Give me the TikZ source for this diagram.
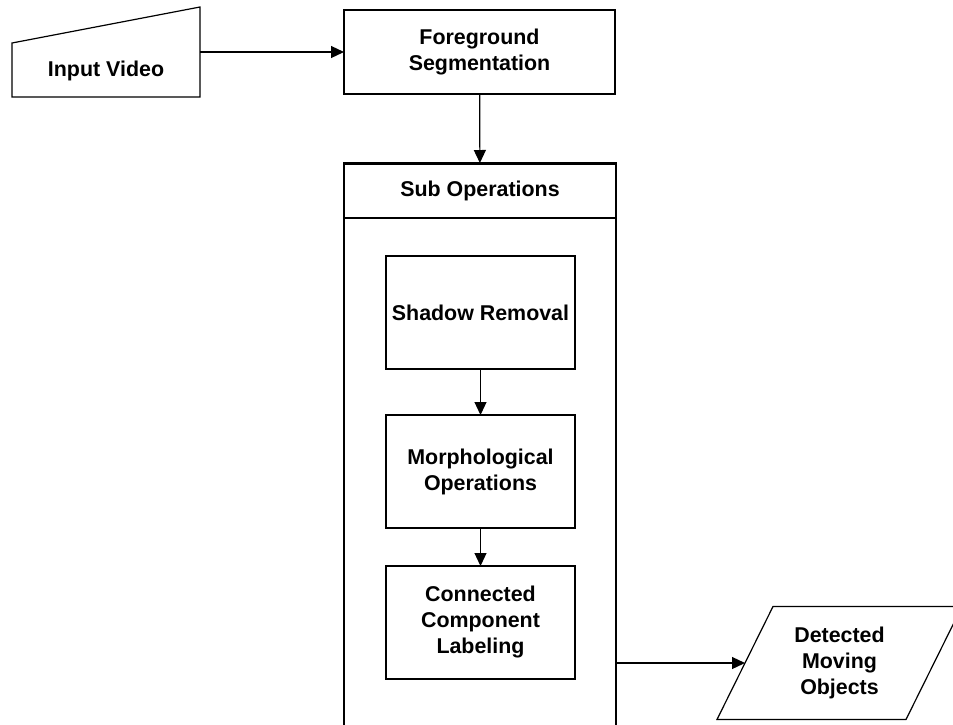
\documentclass[tikz,border=0pt]{standalone}
\usepackage{fontspec}
\setmainfont{Liberation Sans}
\usetikzlibrary{arrows.meta}
\begin{document}
\begin{tikzpicture}[x=1pt,y=-1pt,
  every node/.style={font=\fontsize{21.4}{26}\selectfont\bfseries, align=center,
    inner sep=0pt, outer sep=0pt},
  ln/.style={line width=1.2pt, draw=black},
  stepbox/.style={ln, minimum width=189, minimum height=113},
  arr/.style={line width=1.2pt, -{Triangle[length=13pt,width=12pt]}},
]
\useasboundingbox (0,0) rectangle (953,724);
\clip (0,0) rectangle (953,724);

% input (manual input shape)
\node[minimum width=188, minimum height=90] (inp) at (106,52) {};
\draw[ln] (inp.south west) -- (inp.south east) -- (inp.north east)
  -- ([yshift=54pt]inp.south west) -- cycle;
\node (inptxt) at (106,71) {Input Video};

% main process
\node[ln, minimum width=271, minimum height=84] (fg) at (479.5,52) {Foreground\\Segmentation};

% sub operations container
\node[ln, minimum width=272, minimum height=55] (hdr) at (480,190.5) {Sub Operations};
\draw[line width=0.8pt] ([yshift=-1.6pt]hdr.north west) -- ([yshift=-1.6pt]hdr.north east);
\node[ln, minimum width=272, minimum height=600, anchor=north] (cont) at (hdr.south) {};

\node[stepbox] (shadow) at (480.5,312.5) {Shadow Removal};
\node[stepbox] (morph) at (480.5,471.5) {Morphological\\Operations};
\node[stepbox] (conn) at (480.5,622.5) {Connected\\Component\\Labeling};

% output (data parallelogram)
\node[minimum width=189, minimum height=113] (out) at (839.5,663) {Detected\\Moving\\Objects};
\draw[ln] ([xshift=-28pt]out.south west) -- ([xshift=-28pt]out.south east)
  -- ([xshift=28pt]out.north east) -- ([xshift=28pt]out.north west) -- cycle;

% connectors
\draw[arr] (inp.east) -- (fg.west);
\draw[arr] (fg) -- (hdr);
\draw[arr] (shadow) -- (morph);
\draw[arr] (morph) -- (conn);
\draw[arr] (cont.east |- out.west) -- (out.west);
\end{tikzpicture}
\end{document}
